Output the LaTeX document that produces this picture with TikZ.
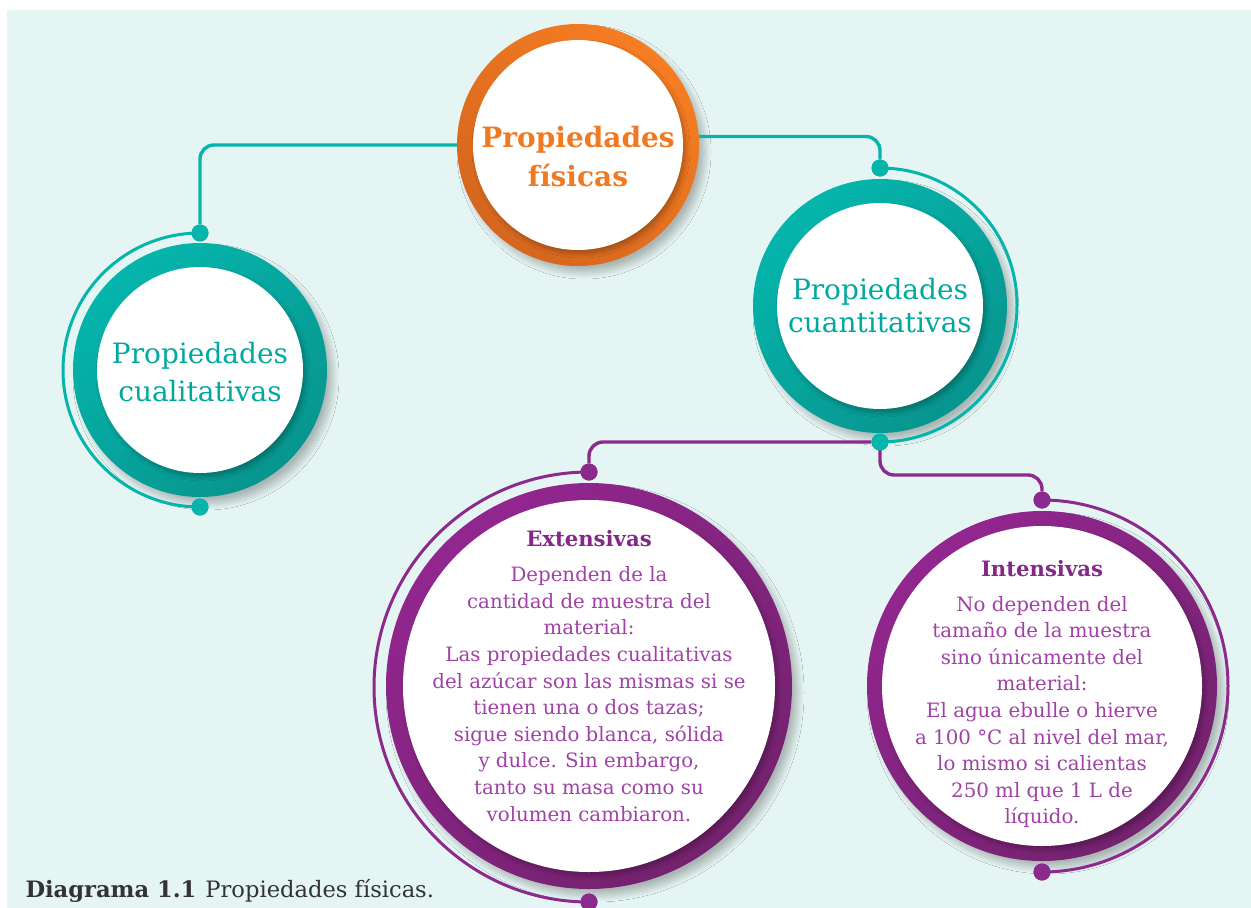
\documentclass[tikz,border=0pt]{standalone}
\usepackage{fontspec}
\setmainfont{DejaVu Serif}
\usetikzlibrary{shadows.blur}
\definecolor{bgc}{HTML}{E5F5F3}
\definecolor{tealL}{HTML}{05B5AC}
\definecolor{tealD}{HTML}{07958E}
\definecolor{tealT}{HTML}{00A99D}
\definecolor{orgL}{HTML}{F67D22}
\definecolor{orgD}{HTML}{D4661E}
\definecolor{orgT}{HTML}{F07A22}
\definecolor{purL}{HTML}{92268F}
\definecolor{purD}{HTML}{74226E}
\definecolor{purC}{HTML}{8B2A8C}
\definecolor{purH}{HTML}{86288A}
\definecolor{purT}{HTML}{A041A6}
\definecolor{capc}{HTML}{333333}
\begin{document}
\begin{tikzpicture}[x=1pt,y=-1pt,
  ring/.style={circle, inner sep=0pt, draw=none,
    blur shadow={shadow xshift=6pt,shadow yshift=-7pt,shadow blur radius=6pt,shadow blur steps=16,shadow opacity=25}},
  disk/.style={circle, fill=white, inner sep=0pt,
    blur shadow={shadow xshift=3pt,shadow yshift=-4pt,shadow blur radius=4pt,shadow blur steps=12,shadow opacity=25}},
  dot/.style={circle, inner sep=0pt, minimum size=17pt},
  conn/.style={line width=3.4pt, rounded corners=14pt},
  arcline/.style={line width=3pt},
  bigtxt/.style={align=center, font=\fontsize{28}{38}\selectfont},
  bodytxt/.style={align=center, font=\fontsize{19.8}{26.6}\selectfont, text=purT}
]
\useasboundingbox (0,0) rectangle (1251,908);
\fill[bgc] (7,10) rectangle (1251,908);

% main circles
\node[ring, minimum size=242pt, top color=orgL, bottom color=orgD, shading angle=-40] (fis) at (578,145) {};
\node[disk, minimum size=210pt] (fisin) at (578,145) {};
\node[bigtxt, text=orgT, font=\fontsize{28}{39}\selectfont\bfseries] (fist) at (578,157) {Propiedades\\físicas};

\node[ring, minimum size=254pt, top color=tealL, bottom color=tealD, shading angle=40] (qual) at (200,370) {};
\node[disk, minimum size=206pt] (qualin) at (200,370) {};
\node[bigtxt, text=tealT] (qualt) at (200,372) {Propiedades\\cualitativas};

\node[ring, minimum size=254pt, top color=tealL, bottom color=tealD, shading angle=40] (quan) at (880,306) {};
\node[disk, minimum size=206pt] (quanin) at (880,306) {};
\node[bigtxt, text=tealT, font=\fontsize{28}{33}\selectfont] (quant) at (880,306) {Propiedades\\cuantitativas};

\node[ring, minimum size=406pt, top color=purL, bottom color=purD, shading angle=40] (ext) at (589,686) {};
\node[disk, minimum size=372pt] (extin) at (589,686) {};
\node[bodytxt] (extt) at (589,676) {{\fontsize{21.2}{26.6}\selectfont\bfseries\color{purH}Extensivas}\\[8.4pt]
  Dependen de la\\ cantidad de muestra del\\ material:\\ Las propiedades cualitativas\\
  del azúcar son las mismas si se\\ tienen una o dos tazas;\\ sigue siendo blanca, sólida\\
  y dulce. Sin embargo,\\ tanto su masa como su\\ volumen cambiaron.};

\node[ring, minimum size=350pt, top color=purL, bottom color=purD, shading angle=40] (inten) at (1042,686) {};
\node[disk, minimum size=320pt] (intenin) at (1042,686) {};
\node[bodytxt] (intent) at (1042,694) {{\fontsize{21.2}{26.6}\selectfont\bfseries\color{purH}Intensivas}\\[8.4pt]
  No dependen del\\ tamaño de la muestra\\ sino únicamente del\\ material:\\ El agua ebulle o hierve\\
  a 100 °C al nivel del mar,\\ lo mismo si calientas\\ 250 ml que 1 L de\\ líquido.};

% dots
\node[dot, fill=tealL] (dq1) at (200,233) {};
\node[dot, fill=tealL] (dq2) at (200,507) {};
\node[dot, fill=tealL] (dn1) at (880,168) {};
\node[dot, fill=tealL] (dn2) at (880,442) {};
\node[dot, fill=purC] (de1) at (589,472) {};
\node[dot, fill=purC] (de2) at (589,902) {};
\node[dot, fill=purC] (di1) at (1042,500) {};
\node[dot, fill=purC] (di2) at (1042,872) {};

% connectors
\draw[conn, draw=tealL] (fis.west) -| (dq1);
\draw[conn, draw=tealL] (fis.4) -| (dn1);
\draw[conn, draw=purC] (dn2) -| (de1);
\draw[conn, draw=purC] (dn2.center) -- ++(0,33) -| (di1);

% arcs
\draw[arcline, draw=tealL] (dq1.center) arc[start angle=90, end angle=270, radius=137pt];
\draw[arcline, draw=tealL] (dn1.center) arc[start angle=90, end angle=-90, radius=137pt];
\draw[arcline, draw=purC] (de1.center) arc[start angle=90, end angle=270, radius=215pt];
\draw[arcline, draw=purC] (di1.center) arc[start angle=90, end angle=-90, radius=186pt];

% redraw dots on top
\foreach \d/\c in {dq1/tealL,dq2/tealL,dn1/tealL,dn2/tealL,de1/purC,de2/purC,di1/purC,di2/purC}
  \fill[\c] (\d) circle[radius=8.5pt];

\node[anchor=base west, font=\fontsize{22.6}{26}\selectfont, text=capc] (cap) at (22,897)
  {\textbf{Diagrama 1.1}\hspace{9pt}Propiedades físicas.};
\end{tikzpicture}
\end{document}
